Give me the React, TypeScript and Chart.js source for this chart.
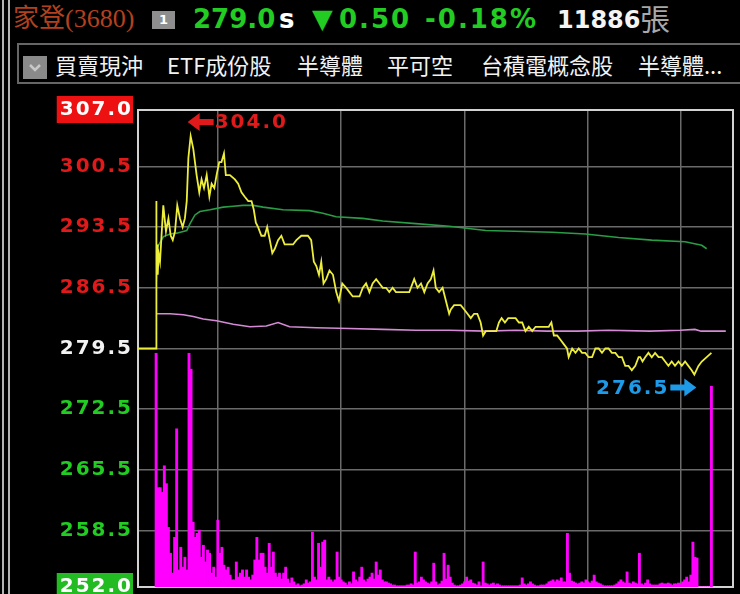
import React, { useEffect, useRef } from 'react';
import { Chart, registerables } from 'chart.js';

Chart.register(...registerables);

// ---- axis definitions ----
const X_MIN = -8.8; // minutes relative to 09:00
const X_MAX = 280.5;
const X_GRID = [0, 60, 120, 180, 240, 270];
const Y_MIN = 252.0;
const Y_MAX = 307.0;
const PREV_CLOSE = 279.5;
const Y_TICKS = [307.0, 300.5, 293.5, 286.5, 279.5, 272.5, 265.5, 258.5, 252.0];
const VOL_MAX = 1200;

// ---- price (minutes after 09:00, price) ----
const PRICE_T = [
  -8.8, 0, 0.05, 0.25, 0.5, 0.8, 1.2, 1.9, 3.5, 4.8,
  6.0, 7.1, 8.1, 9.2, 10.3, 11.6, 12.9, 14.0, 14.9, 15.7,
  16.8, 18.1, 19.7, 21.0, 22.1, 23.3, 24.6, 25.9, 27.0, 28.3,
  29.4, 30.7, 31.8, 33.0, 33.9, 35.9, 38.3, 39.9, 41.5, 43.1,
  44.8, 46.4, 47.5, 48.5, 49.6, 51.2, 52.8, 54.0, 55.3, 56.5,
  57.7, 59.3, 60.9, 62.5, 64.1, 66.6, 68.2, 70.6, 72.2, 73.8,
  75.4, 76.7, 77.9, 79.2, 80.3, 81.4, 82.7, 84.3, 86.0, 87.6,
  88.9, 90.5, 92.4, 94.0, 95.6, 97.3, 98.9, 100.5, 102.1, 103.7,
  105.3, 107.0, 108.6, 110.2, 111.8, 113.4, 115.0, 116.6, 118.3, 119.9,
  121.5, 123.1, 125.5, 127.1, 128.8, 130.4, 132.0, 133.6, 134.9, 136.0,
  137.6, 139.3, 140.9, 142.5, 143.3, 144.9, 146.5, 148.1, 149.8, 151.4,
  153.0, 154.6, 156.2, 157.8, 159.0, 160.3, 161.9, 163.5, 165.4, 166.7,
  168.0, 169.6, 171.2, 173.2, 174.8, 176.4, 178.0, 179.6, 181.2, 182.9,
  184.5, 186.1, 187.7, 189.3, 190.9, 192.2, 193.4, 195.0, 196.6, 198.2,
  199.8, 200.6, 202.3, 203.9, 205.5, 207.1, 208.7, 210.3, 212.0, 213.6,
  215.2, 216.8, 218.4, 220.0, 221.6, 223.3, 224.9, 226.5, 228.1, 229.7,
  231.3, 233.0, 234.6, 235.4, 236.5, 237.8, 239.4, 241.0, 242.6, 244.3,
  245.9, 247.5, 249.1, 250.7, 252.3, 254.0, 255.6, 257.2, 258.8, 260.4,
  261.7, 263.7, 265.3, 270.0,
];
const PRICE_V = [
  279.5, 279.5, 296.5, 287.0, 291.5, 288.0, 290.5, 289.5, 296.0, 293.0,
  294.5, 292.5, 292.0, 293.0, 296.0, 294.5, 293.5, 294.5, 296.5, 301.5,
  304.0, 302.5, 299.5, 297.5, 299.0, 298.0, 299.5, 297.0, 298.5, 298.0,
  299.5, 301.0, 301.0, 302.0, 299.5, 299.5, 299.0, 298.5, 297.5, 297.0,
  296.5, 296.5, 295.5, 294.0, 293.5, 292.5, 292.5, 293.5, 292.0, 290.5,
  291.0, 292.0, 292.5, 291.5, 291.5, 291.5, 292.0, 292.5, 292.5, 292.5,
  292.0, 289.5, 289.0, 288.0, 289.5, 287.0, 287.5, 288.5, 288.0, 286.0,
  285.0, 287.0, 286.5, 286.0, 285.5, 285.5, 285.5, 286.5, 287.0, 286.0,
  287.0, 287.5, 287.0, 286.5, 286.5, 286.0, 286.5, 286.0, 286.0, 286.0,
  286.0, 286.0, 287.5, 286.5, 287.0, 286.0, 287.0, 287.5, 288.5, 286.5,
  286.0, 286.5, 285.0, 283.5, 284.0, 284.5, 284.5, 284.5, 284.0, 283.5,
  283.0, 283.5, 283.5, 282.5, 281.0, 281.5, 281.5, 281.5, 281.5, 282.5,
  283.0, 282.5, 283.0, 283.0, 283.0, 282.5, 282.5, 281.5, 282.0, 281.5,
  282.0, 282.0, 282.0, 282.0, 282.0, 282.5, 281.0, 281.0, 280.5, 280.0,
  279.5, 278.5, 279.5, 279.0, 279.5, 279.0, 279.0, 278.5, 278.5, 279.5,
  279.5, 279.0, 279.5, 279.5, 279.0, 279.0, 278.5, 278.5, 277.5, 277.5,
  277.0, 277.5, 278.5, 278.5, 278.0, 278.5, 279.0, 278.5, 279.0, 278.5,
  278.5, 278.0, 277.5, 278.0, 277.5, 278.0, 277.5, 278.0, 277.5, 277.0,
  276.5, 277.5, 278.0, 279.0,
];

// ---- average price (green) ----
const AVG_T = [0.2, 1.1, 3.6, 6.8, 10.0, 14.9, 16.5, 18.9, 21.3, 26.2, 32.6, 37.5, 42.3, 47.2, 52.0, 61.7, 74.6, 81.1, 87.5, 100.5, 110.2, 126.3, 142.5, 160.3, 192.6, 208.7, 224.9, 241.0, 257.2, 265.3, 267.7];
const AVG_V = [291.0, 291.4, 292.4, 292.7, 292.8, 293.1, 293.9, 294.9, 295.3, 295.5, 295.8, 295.9, 296.0, 296.0, 295.8, 295.5, 295.4, 295.1, 294.7, 294.5, 294.2, 293.9, 293.6, 293.1, 292.9, 292.7, 292.3, 292.0, 291.8, 291.4, 291.0];

// ---- reference line (pink) ----
const REF_T = [0.3, 6.8, 13.2, 18.1, 22.9, 29.4, 37.5, 45.6, 53.6, 59.3, 64.9, 77.9, 94.0, 110.2, 126.3, 142.5, 160.0, 175.0, 190.0, 205.0, 220.0, 240.0, 255.0, 262.0, 265.0, 277.0];
const REF_V = [283.5, 283.5, 283.4, 283.2, 282.9, 282.7, 282.3, 282.0, 282.1, 282.5, 282.0, 281.9, 281.8, 281.7, 281.6, 281.6, 281.5, 281.6, 281.5, 281.5, 281.6, 281.5, 281.6, 281.7, 281.5, 281.5];

// ---- volume per minute (lots), minute 0..270 ----
const VOLUME = [
  588, 250, 250, 238, 305, 260, 150, 85, 35, 125,
  398, 43, 100, 50, 75, 43, 588, 548, 163, 125,
  135, 143, 75, 105, 63, 93, 85, 35, 50, 25,
  168, 85, 100, 55, 43, 50, 30, 18, 18, 63,
  25, 35, 43, 25, 43, 25, 18, 30, 68, 125,
  68, 85, 85, 50, 35, 110, 50, 88, 35, 25,
  35, 20, 35, 50, 20, 10, 23, 13, 5, 8,
  3, 5, 8, 18, 10, 13, 138, 25, 18, 110,
  50, 113, 118, 18, 25, 18, 13, 18, 88, 25,
  18, 13, 10, 5, 13, 8, 38, 18, 13, 25,
  50, 18, 13, 20, 25, 35, 20, 63, 30, 43,
  18, 13, 13, 10, 8, 5, 5, 3, 3, 3,
  3, 3, 5, 5, 8, 5, 88, 10, 13, 25,
  18, 13, 10, 8, 13, 60, 13, 5, 8, 15,
  85, 20, 55, 25, 10, 5, 3, 3, 5, 8,
  13, 25, 15, 18, 10, 8, 5, 13, 3, 63,
  10, 8, 5, 8, 10, 5, 8, 5, 3, 3,
  3, 3, 3, 3, 3, 3, 3, 5, 23, 8,
  5, 8, 13, 8, 5, 3, 3, 5, 5, 5,
  8, 13, 15, 18, 13, 18, 15, 23, 13, 13,
  135, 35, 15, 13, 10, 8, 10, 13, 10, 18,
  13, 10, 15, 30, 13, 10, 8, 5, 3, 3,
  3, 3, 3, 5, 8, 13, 18, 13, 10, 38,
  10, 8, 13, 10, 8, 85, 8, 5, 10, 18,
  8, 5, 5, 5, 5, 8, 10, 8, 8, 10,
  8, 5, 8, 8, 10, 8, 13, 18, 25, 13,
  30, 113, 75, 73, 0, 0, 0, 0, 0, 0,
  505,
];

// ---- header texts ----
const STOCK_NAME = '家登(3680)';
const LAST_PRICE = '279.0';
const CHANGE = '0.50';
const CHANGE_PCT = '-0.18%';
const TOTAL_VOL = '11886';
const TABS = [
  { text: '買賣現沖', x: 55 },
  { text: 'ETF成份股', x: 167 },
  { text: '半導體', x: 297 },
  { text: '平可空', x: 387 },
  { text: '台積電概念股', x: 481 },
  { text: '半導體...', x: 638 },
];

const RED = '#e01a1a';
const GREEN = '#22cc22';
const GRID = '#6a6a6a';
const LABEL_FONT = '"DejaVu Sans", sans-serif';

const toPts = (t: number[], v: number[]) => t.map((x, i) => ({ x, y: v[i] }));

const spacingPlugin = {
  id: 'spacing',
  beforeLayout(chart: any) {
    chart.ctx.letterSpacing = '2px';
  },
  beforeDraw(chart: any) {
    chart.ctx.letterSpacing = '2px';
  },
  beforeDatasetsDraw(chart: any) {
    const { ctx, chartArea: a } = chart;
    ctx.letterSpacing = '0px';
    ctx.save();
    ctx.strokeStyle = '#d2d2d2';
    ctx.lineWidth = 2;
    ctx.strokeRect(a.left, a.top, a.right - a.left, a.bottom - a.top);
    ctx.restore();
  },
};

function arrow(ctx: CanvasRenderingContext2D, tipX: number, y: number, dir: number, color: string) {
  // dir = 1: pointing left (body extends right); dir = -1: pointing right
  const L = 26, H = 12, hw = 9, sw = 3;
  ctx.beginPath();
  ctx.moveTo(tipX, y);
  ctx.lineTo(tipX + dir * H, y - hw);
  ctx.lineTo(tipX + dir * H, y - sw);
  ctx.lineTo(tipX + dir * L, y - sw);
  ctx.lineTo(tipX + dir * L, y + sw);
  ctx.lineTo(tipX + dir * H, y + sw);
  ctx.lineTo(tipX + dir * H, y + hw);
  ctx.closePath();
  ctx.fillStyle = color;
  ctx.fill();
}

const extremesPlugin = {
  id: 'extremes',
  afterDatasetsDraw(chart: any) {
    const { ctx, scales } = chart;
    const x = scales.x, y = scales.y;
    let hi = 0, lo = 0;
    PRICE_V.forEach((v, i) => {
      if (v > PRICE_V[hi]) hi = i;
      if (v < PRICE_V[lo]) lo = i;
    });
    ctx.save();
    ctx.letterSpacing = '2px';
    ctx.font = `bold 20px ${LABEL_FONT}`;
    ctx.textBaseline = 'middle';
    const hx = x.getPixelForValue(PRICE_T[hi]) - 3;
    const hy = y.getPixelForValue(PRICE_V[hi]) - 14;
    arrow(ctx, hx, hy, 1, RED);
    ctx.fillStyle = RED;
    ctx.textAlign = 'left';
    ctx.fillText(PRICE_V[hi].toFixed(1), hx + 27, hy + 1);
    const lx = x.getPixelForValue(PRICE_T[lo]) + 2;
    const ly = y.getPixelForValue(PRICE_V[lo]) + 13;
    const BLUE = '#1e9be8';
    arrow(ctx, lx, ly, -1, BLUE);
    ctx.fillStyle = BLUE;
    ctx.textAlign = 'right';
    ctx.fillText(PRICE_V[lo].toFixed(1), lx - 27, ly + 1);
    ctx.restore();
  },
};

export default function App() {
  const ref = useRef<HTMLCanvasElement>(null);

  useEffect(() => {
    if (!ref.current) return;
    const chart = new Chart(ref.current, {
      type: 'line',
      data: {
        datasets: [
          {
            type: 'line',
            data: toPts(PRICE_T, PRICE_V),
            borderColor: '#eded3c',
            borderWidth: 1.8,
            pointRadius: 0,
            tension: 0,
            yAxisID: 'y',
            order: 0,
          },
          {
            type: 'line',
            data: toPts(AVG_T, AVG_V),
            borderColor: '#2a9c46',
            borderWidth: 1.6,
            pointRadius: 0,
            tension: 0,
            yAxisID: 'y',
            order: 1,
          },
          {
            type: 'line',
            data: toPts(REF_T, REF_V),
            borderColor: '#d48ad4',
            borderWidth: 1.6,
            pointRadius: 0,
            tension: 0,
            yAxisID: 'y',
            order: 2,
          },
          {
            type: 'bar',
            data: VOLUME.map((v, i) => ({ x: i, y: v })),
            backgroundColor: '#ff00ff',
            borderWidth: 0,
            barThickness: 2.2,
            yAxisID: 'yVol',
            order: 10,
          } as any,
        ],
      },
      options: {
        animation: false,
        responsive: false,
        events: [],
        layout: { padding: { top: 22, right: 7, bottom: 31, left: 0 } },
        plugins: { legend: { display: false }, tooltip: { enabled: false } },
        scales: {
          x: {
            type: 'linear',
            min: X_MIN,
            max: X_MAX,
            offset: false,
            afterBuildTicks: (s: any) => {
              s.ticks = X_GRID.map((value) => ({ value }));
            },
            ticks: { display: false },
            grid: { color: GRID, lineWidth: 1.5, drawTicks: false },
            border: { display: false },
          },
          y: {
            type: 'linear',
            min: Y_MIN,
            max: Y_MAX,
            afterBuildTicks: (s: any) => {
              s.ticks = Y_TICKS.map((value) => ({ value }));
            },
            afterFit: (s: any) => {
              s.width = 138;
            },
            ticks: {
              padding: 5,
              font: { family: LABEL_FONT, size: 20, weight: 'bold' },
              callback: (v: any) => Number(v).toFixed(1),
              color: (c: any) => {
                const v = c.tick ? c.tick.value : 0;
                if (v === Y_MAX || v === Y_MIN) return '#ffffff';
                if (v > PREV_CLOSE) return RED;
                if (v < PREV_CLOSE) return GREEN;
                return '#f2f2f2';
              },
              showLabelBackdrop: (c: any) => !!c.tick && (c.tick.value === Y_MAX || c.tick.value === Y_MIN),
              backdropColor: (c: any) => (c.tick && c.tick.value === Y_MAX ? '#ee1111' : '#22bb22'),
              backdropPadding: { left: 3, right: 0, top: 2, bottom: 1 },
            } as any,
            grid: { color: GRID, lineWidth: 1.5, drawTicks: false },
            border: { display: false },
          },
          yVol: {
            type: 'linear',
            display: false,
            min: 0,
            max: VOL_MAX,
          },
        },
      } as any,
      plugins: [spacingPlugin, extremesPlugin],
    });
    return () => chart.destroy();
  }, []);

  const hdr = (left: number, top: number, size: number, color: string, text: string, extra: any = {}) => (
    <span
      style={{
        position: 'absolute',
        left,
        top,
        fontSize: size,
        lineHeight: '30px',
        color,
        whiteSpace: 'nowrap',
        fontFamily: LABEL_FONT,
        fontWeight: 'bold',
        ...extra,
      }}
    >
      {text}
    </span>
  );

  return (
    <div
      style={{
        position: 'fixed',
        left: 0,
        top: 0,
        width: 740,
        height: 594,
        background: '#000',
        overflow: 'hidden',
      }}
    >
      <canvas
        ref={ref}
        width={740}
        height={530}
        style={{ position: 'absolute', left: 0, top: 88, width: 740, height: 530 }}
      />

      {/* header */}
      {hdr(13, 4, 26, '#b4401e', STOCK_NAME, {
        fontFamily: '"Liberation Serif", "Noto Sans CJK TC", serif',
        fontWeight: 'normal',
      })}
      <div
        style={{
          position: 'absolute',
          left: 152,
          top: 11,
          width: 23,
          height: 18,
          background: '#8e8e8e',
          color: '#fff',
          fontFamily: LABEL_FONT,
          fontWeight: 'bold',
          fontSize: 13,
          lineHeight: '18px',
          textAlign: 'center',
        }}
      >
        1
      </div>
      {hdr(193, 4, 26, GREEN, LAST_PRICE)}
      {hdr(279, 4, 26, '#ffffff', 's')}
      {hdr(312, 4, 27, GREEN, '▼')}
      {hdr(339, 4, 26, GREEN, CHANGE, { letterSpacing: '2px' })}
      {hdr(425, 4, 26, GREEN, CHANGE_PCT, { letterSpacing: '2px' })}
      {hdr(557, 5, 24, '#f4f4f4', TOTAL_VOL)}
      {hdr(640, 2, 30, '#a8a8a8', '張', { fontFamily: '"Noto Sans CJK TC", sans-serif', fontWeight: 'normal' })}

      {/* tab row */}
      <div
        style={{
          position: 'absolute',
          left: 17,
          top: 43,
          width: 740,
          height: 37,
          border: '2px solid #666',
          boxSizing: 'content-box',
        }}
      />
      <div
        style={{
          position: 'absolute',
          left: 23,
          top: 56,
          width: 24,
          height: 23,
          background: '#8a8a8a',
        }}
      >
        <svg width={24} height={23} style={{ display: 'block' }}>
          <polyline points="7,9 12,14 17,9" fill="none" stroke="#c8c8c8" strokeWidth={2.5} />
        </svg>
      </div>
      {TABS.map((t) => (
        <span
          key={t.x}
          style={{
            position: 'absolute',
            left: t.x,
            top: 49,
            fontSize: 22,
            lineHeight: '30px',
            color: '#f2f2f2',
            fontFamily: '"Noto Sans CJK TC", sans-serif',
            whiteSpace: 'nowrap',
          }}
        >
          {t.text}
        </span>
      ))}

      {/* left double border */}
      <div style={{ position: 'absolute', left: 2, top: 0, width: 2, height: 594, background: '#b4b4b4' }} />
      <div style={{ position: 'absolute', left: 8, top: 0, width: 2, height: 594, background: '#b4b4b4' }} />
    </div>
  );
}
